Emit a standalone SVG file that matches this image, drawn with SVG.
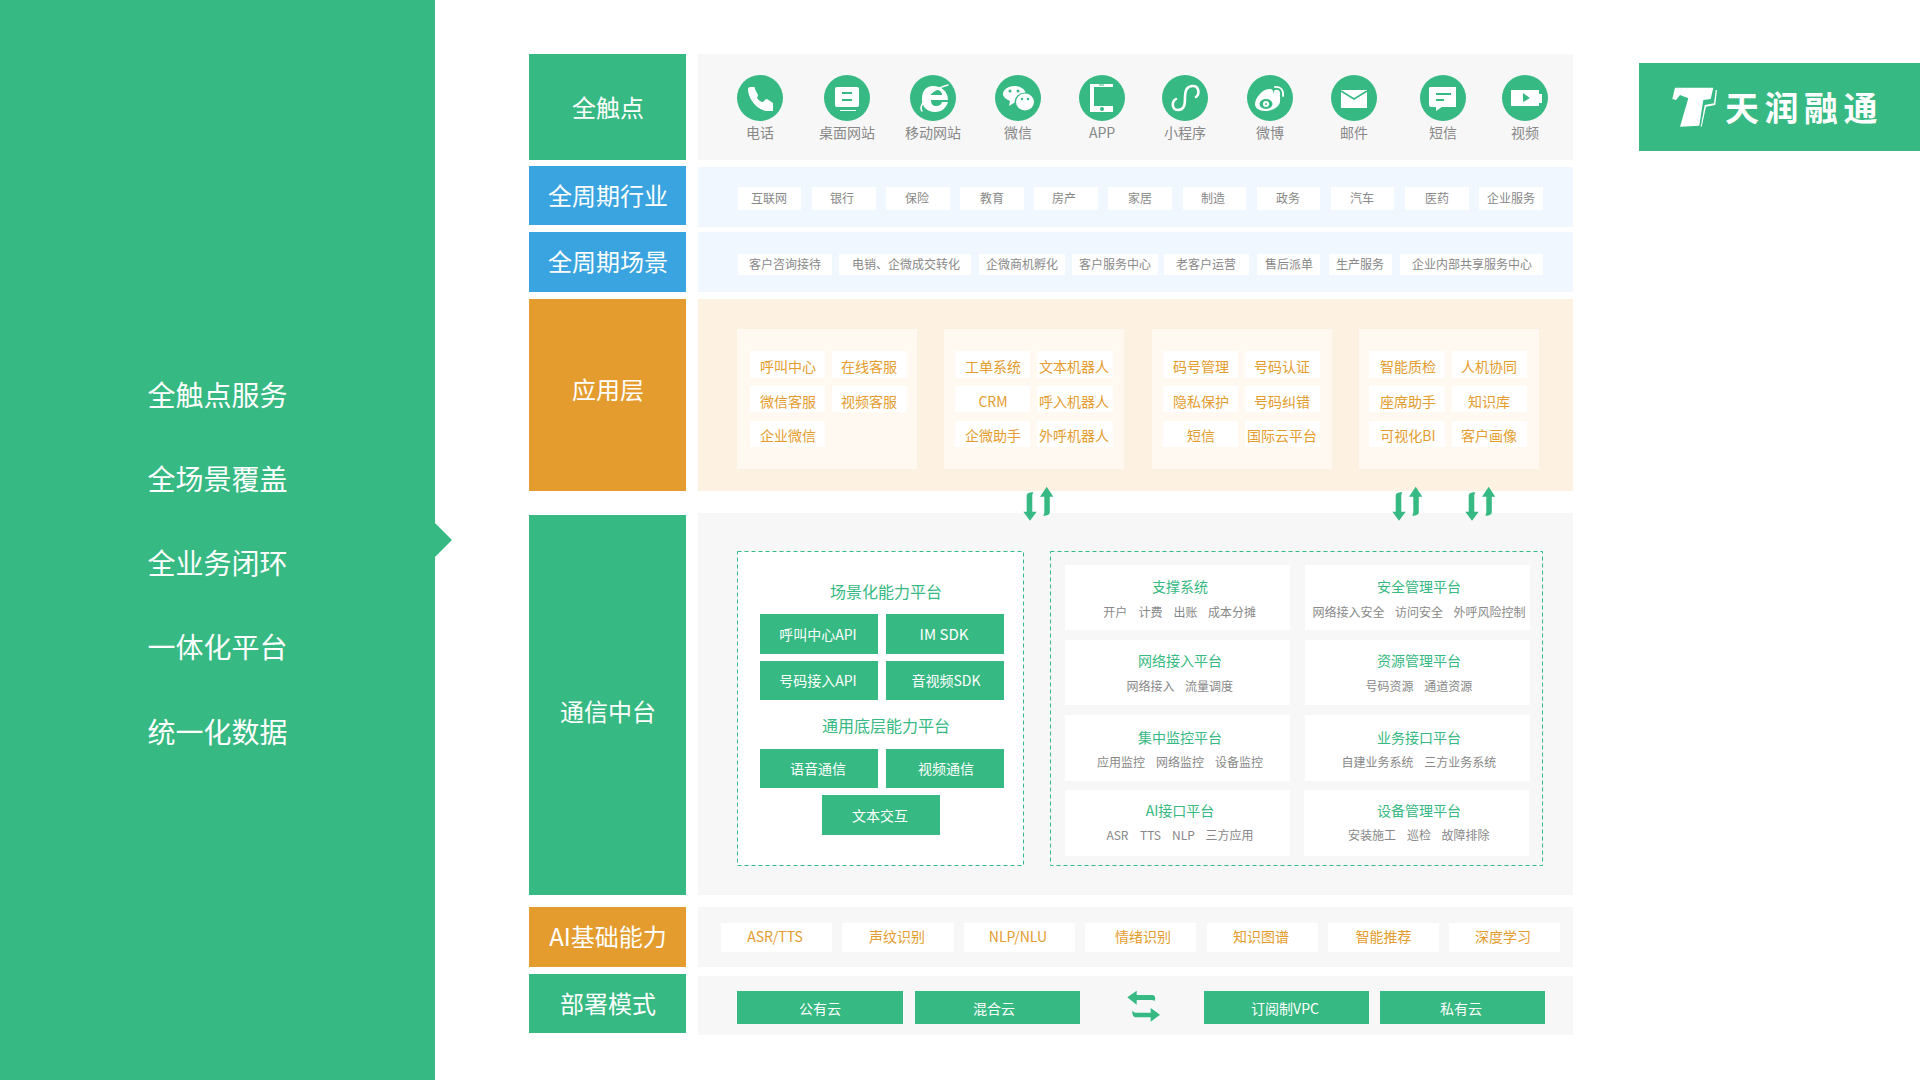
<svg xmlns="http://www.w3.org/2000/svg" xmlns:xlink="http://www.w3.org/1999/xlink" width="1920" height="1080" viewBox="0 0 1920 1080">
<style>
text{font-family:"Noto Sans CJK SC","Liberation Sans",sans-serif;font-weight:400;dominant-baseline:central;text-anchor:middle;transform:translateY(-1.300px)}
.g{fill:#36b982}.b{fill:#3aa4e0}.o{fill:#e49c2e}.w{fill:#fff}.gr{fill:#f7f7f7}.lb{fill:#f0f7fe}.pe{fill:#fdf1e1}.cd{fill:#fff9f1}
.t24{font-size:24px;fill:#fff}.t28{font-size:28px;fill:#fff}
.ic{font-size:14px;fill:#888}.c12{font-size:12px;fill:#888}.o14{font-size:14px;fill:#e49c2e}
.w14{font-size:14px;fill:#fff}.g16{font-size:16px;fill:#36b982}.g14{font-size:14px;fill:#36b982}
.s12{font-size:12px;fill:#888;text-anchor:start}
.dash{fill:none;stroke:#36b982;stroke-width:1;stroke-dasharray:4 3}
.hole{fill:#36b982}.ln{fill:none;stroke:#fff;stroke-linecap:round}
.ar{fill:#36b982}
</style>
<defs>
<path id="updown" class="ar" d="M1026.700 496C1026.700 493.500 1028.500 492.300 1033.300 492.300L1032.300 495V511.700H1036.700L1030 520.700L1023.300 511.700H1026.700ZM1046.700 486.700L1053.300 496.700H1049.800V512C1049.800 514.500 1047.500 515.700 1043.300 515.700L1044.300 513V496.700H1040Z"/>
</defs>
<g id="sidebar">
<path class="g" d="M0 0H435V523L452 540L435 557V1080H0Z"/>
<text class="t28" x="217.500" y="395">全触点服务</text>
<text class="t28" x="217.500" y="479">全场景覆盖</text>
<text class="t28" x="217.500" y="563">全业务闭环</text>
<text class="t28" x="217.500" y="647">一体化平台</text>
<text class="t28" x="217.500" y="732">统一化数据</text>
</g>
<g id="logo">
<rect class="g" x="1639" y="63" width="281" height="88"/>
<path class="w" d="M1675 87.700H1713.300L1710.700 99L1703.300 100L1699.300 125.700L1680 126.700L1688.300 98.300L1680 95L1676 100L1672.300 99Z"/>
<path class="w" d="M1715.700 90H1717L1715.300 105L1706 106.700L1701.700 126.700H1700.700L1704.700 105L1714 103.300Z"/>
<text x="1804" y="108.300" style="font-size:34px;font-weight:700;letter-spacing:5.500px;fill:#fff">天润融通</text>
</g>
<g id="touchpoints">
<rect class="g" x="529" y="54" width="157" height="106"/>
<text class="t24" x="608" y="108">全触点</text>
<rect class="gr" x="698" y="54" width="875" height="106"/>
<g id="tp-phone" transform="translate(760 98)"><circle class="g" r="23"/><path class="w" d="M-12-9Q-12-11-9-11H-6Q-5-11-5-9L-2-3Q-2-2-3 0Q0 4 3 4L5 2Q6 1 7 1L13 5V13H6Q-3 11-8 3Q-12-3-12-9Z"/><text class="ic" y="35">电话</text></g>
<g id="tp-web" transform="translate(847 98)"><circle class="g" r="23"/><path class="w" d="M-10-11H10Q12-11 12-9V7Q12 9 10 9H-10Q-12 9-12 7V-9Q-12-11-10-11ZM-7 12H9V13H-7Z"/><path class="hole" d="M-5-6H5V-4H-5ZM-5 1H5V3H-5Z"/><text class="ic" y="35">桌面网站</text></g>
<g id="tp-mobile" transform="translate(933 98)"><circle class="g" r="23"/><path class="ln" stroke-width="1.500" d="M-11 13C-15 9-6-8 15-13"/><path class="w" d="M0-12C8-12 15-7 15 2H-2C-2 6 0 8 3 8C6 8 8 7 9 4H15C13 10 9 14 2 14C-6 14-11 9-11 1C-11-7-7-12 0-12ZM-2-3H9C9-6 7-8 3-8C0-8-2-6-2-3Z"/><text class="ic" y="35">移动网站</text></g>
<g id="tp-wechat" transform="translate(1018 98)"><circle class="g" r="23"/><path class="w" d="M-4-12C3-12 8-8 8-3C8 2 3 5-4 5L-9 8L-8 3C-12 1-15-1-15-4C-15-8-10-12-4-12Z"/><ellipse cx="7" cy="4" rx="10.500" ry="9.500" fill="#36b982"/><ellipse class="w" cx="7" cy="4" rx="9" ry="8.500"/><circle class="hole" cx="-8" cy="-7" r="1.500"/><circle class="hole" cx="0" cy="-7" r="1.500"/><circle class="hole" cx="4" cy="1" r="1.200"/><circle class="hole" cx="10" cy="1" r="1.200"/><text class="ic" y="35">微信</text></g>
<g id="tp-app" transform="translate(1102 98)"><circle class="g" r="23"/><path class="w" d="M-12-14H11V-11H-8V8H11V14H-12Z"/><rect class="hole" x="-3" y="-13.500" width="5" height="1"/><circle class="hole" cx="0" cy="11" r="2"/><text class="ic" y="35">APP</text></g>
<g id="tp-mini" transform="translate(1185 98)"><circle class="g" r="23"/><path class="ln" stroke-width="2.600" d="M11-1C15-4 14-12 8-12C2-12 0-8 0 0C0 7-1 12-7 12C-13 12-14 4-9 1"/><text class="ic" y="35">小程序</text></g>
<g id="tp-weibo" transform="translate(1270 98)"><circle class="g" r="23"/><path class="w" d="M5-8C8-6 11-3 10 2C11 8 3 13-5 13C-11 13-15 10-15 6C-15 0-7-10 0-9C3-9 4-6 3-4C5-7 5-8 5-8Z"/><ellipse class="hole" cx="-4" cy="6" rx="6.500" ry="5"/><circle class="w" cx="-4" cy="6" r="3"/><circle class="hole" cx="-4" cy="6" r="1"/><path class="ln" stroke-width="1.800" d="M5-11C11-12 14-7 13-2M5-7C8-8 10-6 9-3"/><text class="ic" y="35">微博</text></g>
<g id="tp-mail" transform="translate(1354 98)"><circle class="g" r="23"/><path class="w" d="M-13-8H13V10H-13Z"/><path fill="none" stroke="#36b982" stroke-width="1.500" d="M-13-7L0 1L13-7"/><text class="ic" y="35">邮件</text></g>
<g id="tp-sms" transform="translate(1443 98)"><circle class="g" r="23"/><path class="w" d="M-13-11H13V9H-1L-7 13V9H-12Q-14 9-14 7V-10Q-14-11-13-11Z"/><path class="hole" d="M-7-5H8V-3H-7ZM-7 1H1V3H-7Z"/><text class="ic" y="35">短信</text></g>
<g id="tp-video" transform="translate(1525 98)"><circle class="g" r="23"/><path class="w" d="M-14-8H14V-4H17V5H14V8H-14Z"/><path class="hole" d="M-2-5L5 0L-2 4Z"/><text class="ic" y="35">视频</text></g>
</g>
<g id="industries">
<rect class="b" x="529" y="166" width="157" height="59"/>
<text class="t24" x="608" y="196">全周期行业</text>
<rect class="lb" x="698" y="167" width="875" height="60"/>
<g id="ind-chips">
<rect class="w" x="738" y="187" width="63" height="23"/><text class="c12" x="769" y="198.500">互联网</text>
<rect class="w" x="812" y="187" width="64" height="23"/><text class="c12" x="842" y="198.500">银行</text>
<rect class="w" x="886" y="187" width="64" height="23"/><text class="c12" x="917" y="198.500">保险</text>
<rect class="w" x="960" y="187" width="64" height="23"/><text class="c12" x="992" y="198.500">教育</text>
<rect class="w" x="1034" y="187" width="64" height="23"/><text class="c12" x="1064" y="198.500">房产</text>
<rect class="w" x="1108" y="187" width="64" height="23"/><text class="c12" x="1140" y="198.500">家居</text>
<rect class="w" x="1183" y="187" width="63" height="23"/><text class="c12" x="1213" y="198.500">制造</text>
<rect class="w" x="1257" y="187" width="63" height="23"/><text class="c12" x="1288" y="198.500">政务</text>
<rect class="w" x="1331" y="187" width="63" height="23"/><text class="c12" x="1362" y="198.500">汽车</text>
<rect class="w" x="1405" y="187" width="64" height="23"/><text class="c12" x="1437" y="198.500">医药</text>
<rect class="w" x="1479" y="187" width="64" height="23"/><text class="c12" x="1511" y="198.500">企业服务</text>
</g>
</g>
<g id="scenes">
<rect class="b" x="529" y="232" width="157" height="60"/>
<text class="t24" x="608" y="262">全周期场景</text>
<rect class="lb" x="698" y="232" width="875" height="60"/>
<g id="scene-chips">
<rect class="w" x="738" y="254" width="94" height="21"/><text class="c12" x="785" y="264.500">客户咨询接待</text>
<rect class="w" x="839" y="254" width="132" height="21"/><text class="c12" x="906" y="264.500">电销、企微成交转化</text>
<rect class="w" x="979" y="254" width="86" height="21"/><text class="c12" x="1022" y="264.500">企微商机孵化</text>
<rect class="w" x="1072" y="254" width="86" height="21"/><text class="c12" x="1115" y="264.500">客户服务中心</text>
<rect class="w" x="1164" y="254" width="85" height="21"/><text class="c12" x="1206" y="264.500">老客户运营</text>
<rect class="w" x="1257" y="254" width="63" height="21"/><text class="c12" x="1289" y="264.500">售后派单</text>
<rect class="w" x="1329" y="254" width="63" height="21"/><text class="c12" x="1360" y="264.500">生产服务</text>
<rect class="w" x="1400" y="254" width="143" height="21"/><text class="c12" x="1472" y="264.500">企业内部共享服务中心</text>
</g>
</g>
<g id="applications">
<rect class="o" x="529" y="299" width="157" height="192"/>
<text class="t24" x="608" y="390">应用层</text>
<rect class="pe" x="698" y="299" width="875" height="192"/>
<g id="app-card-1">
<rect class="cd" x="737" y="329" width="180" height="140"/>
<rect class="w" x="750" y="351" width="75" height="27"/><text class="o14" x="788" y="367">呼叫中心</text>
<rect class="w" x="832" y="351" width="75" height="27"/><text class="o14" x="869" y="367">在线客服</text>
<rect class="w" x="750" y="386" width="75" height="26"/><text class="o14" x="788" y="402">微信客服</text>
<rect class="w" x="832" y="386" width="75" height="26"/><text class="o14" x="869" y="402">视频客服</text>
<rect class="w" x="750" y="421" width="75" height="26"/><text class="o14" x="788" y="436">企业微信</text>
</g>
<g id="app-card-2">
<rect class="cd" x="944" y="329" width="180" height="140"/>
<rect class="w" x="955" y="351" width="75" height="27"/><text class="o14" x="993" y="367">工单系统</text>
<rect class="w" x="1037" y="351" width="76" height="27"/><text class="o14" x="1074" y="367">文本机器人</text>
<rect class="w" x="955" y="386" width="75" height="26"/><text class="o14" x="993" y="402">CRM</text>
<rect class="w" x="1037" y="386" width="76" height="26"/><text class="o14" x="1074" y="402">呼入机器人</text>
<rect class="w" x="955" y="421" width="75" height="26"/><text class="o14" x="993" y="436">企微助手</text>
<rect class="w" x="1037" y="421" width="76" height="26"/><text class="o14" x="1074" y="436">外呼机器人</text>
</g>
<g id="app-card-3">
<rect class="cd" x="1152" y="329" width="180" height="140"/>
<rect class="w" x="1163" y="351" width="75" height="27"/><text class="o14" x="1201" y="367">码号管理</text>
<rect class="w" x="1245" y="351" width="75" height="27"/><text class="o14" x="1282" y="367">号码认证</text>
<rect class="w" x="1163" y="386" width="75" height="26"/><text class="o14" x="1201" y="402">隐私保护</text>
<rect class="w" x="1245" y="386" width="75" height="26"/><text class="o14" x="1282" y="402">号码纠错</text>
<rect class="w" x="1163" y="421" width="75" height="26"/><text class="o14" x="1201" y="436">短信</text>
<rect class="w" x="1245" y="421" width="75" height="26"/><text class="o14" x="1282" y="436">国际云平台</text>
</g>
<g id="app-card-4">
<rect class="cd" x="1359" y="329" width="180" height="140"/>
<rect class="w" x="1369" y="351" width="76" height="27"/><text class="o14" x="1408" y="367">智能质检</text>
<rect class="w" x="1452" y="351" width="75" height="27"/><text class="o14" x="1489" y="367">人机协同</text>
<rect class="w" x="1369" y="386" width="76" height="26"/><text class="o14" x="1408" y="402">座席助手</text>
<rect class="w" x="1452" y="386" width="75" height="26"/><text class="o14" x="1489" y="402">知识库</text>
<rect class="w" x="1369" y="421" width="76" height="26"/><text class="o14" x="1408" y="436">可视化BI</text>
<rect class="w" x="1452" y="421" width="75" height="26"/><text class="o14" x="1489" y="436">客户画像</text>
</g>
</g>
<g id="comm">
<rect class="g" x="529" y="515" width="157" height="380"/>
<text class="t24" x="608" y="712">通信中台</text>
<rect class="gr" x="698" y="513" width="875" height="382"/>
<g id="comm-left">
<rect class="w" x="737.500" y="551.500" width="286" height="314"/>
<rect class="dash" x="737.500" y="551.500" width="286" height="314"/>
<text class="g16" x="886" y="592">场景化能力平台</text>
<rect class="g" x="760" y="614" width="118" height="40"/><text class="w14" x="818" y="635">呼叫中心API</text>
<rect class="g" x="886" y="614" width="118" height="40"/><text class="w14" x="944" y="635" style="font-size:15px">IM SDK</text>
<rect class="g" x="760" y="661" width="118" height="39"/><text class="w14" x="818" y="681">号码接入API</text>
<rect class="g" x="886" y="661" width="118" height="39"/><text class="w14" x="946" y="681">音视频SDK</text>
<text class="g16" x="886" y="726">通用底层能力平台</text>
<rect class="g" x="760" y="749" width="118" height="39"/><text class="w14" x="818" y="769">语音通信</text>
<rect class="g" x="886" y="749" width="118" height="39"/><text class="w14" x="946" y="769">视频通信</text>
<rect class="g" x="822" y="795" width="118" height="40"/><text class="w14" x="880" y="816">文本交互</text>
</g>
<g id="comm-right">
<rect class="dash" x="1050.500" y="551.500" width="492" height="314"/>
<g id="p-support"><rect class="w" x="1065" y="565" width="225" height="65"/><text class="g14" x="1180" y="587">支撑系统</text><text class="s12" y="612"><tspan x="1103.300">开户</tspan><tspan x="1138.500">计费</tspan><tspan x="1173.600">出账</tspan><tspan x="1208">成本分摊</tspan></text></g>
<g id="p-security"><rect class="w" x="1305" y="565" width="225" height="65"/><text class="g14" x="1419" y="587">安全管理平台</text><text class="s12" y="612"><tspan x="1312.400">网络接入安全</tspan><tspan x="1395">访问安全</tspan><tspan x="1453.600">外呼风险控制</tspan></text></g>
<g id="p-access"><rect class="w" x="1065" y="640" width="225" height="65"/><text class="g14" x="1180" y="661">网络接入平台</text><text class="s12" y="686"><tspan x="1126.400">网络接入</tspan><tspan x="1185">流量调度</tspan></text></g>
<g id="p-resource"><rect class="w" x="1305" y="640" width="225" height="65"/><text class="g14" x="1419" y="661">资源管理平台</text><text class="s12" y="686"><tspan x="1365.400">号码资源</tspan><tspan x="1424.300">通道资源</tspan></text></g>
<g id="p-monitor"><rect class="w" x="1065" y="715" width="225" height="66"/><text class="g14" x="1180" y="738">集中监控平台</text><text class="s12" y="762"><tspan x="1097">应用监控</tspan><tspan x="1156">网络监控</tspan><tspan x="1215">设备监控</tspan></text></g>
<g id="p-business"><rect class="w" x="1305" y="715" width="225" height="66"/><text class="g14" x="1419" y="738">业务接口平台</text><text class="s12" y="762"><tspan x="1341.600">自建业务系统</tspan><tspan x="1424.300">三方业务系统</tspan></text></g>
<g id="p-ai"><rect class="w" x="1065" y="790" width="225" height="66"/><text class="g14" x="1180" y="811">AI接口平台</text><text class="s12" y="835"><tspan x="1106.400">ASR</tspan><tspan x="1140">TTS</tspan><tspan x="1172">NLP</tspan><tspan x="1205.600">三方应用</tspan></text></g>
<g id="p-device"><rect class="w" x="1304" y="790" width="225" height="66"/><text class="g14" x="1419" y="811">设备管理平台</text><text class="s12" y="835"><tspan x="1348">安装施工</tspan><tspan x="1407">巡检</tspan><tspan x="1441.500">故障排除</tspan></text></g>
</g>
</g>
<g id="ai">
<rect class="o" x="529" y="907" width="157" height="60"/>
<text class="t24" x="608" y="937">AI基础能力</text>
<rect class="gr" x="698" y="907" width="875" height="60"/>
<rect class="w" x="721" y="923" width="111" height="29"/><text class="o14" x="775" y="937">ASR/TTS</text>
<rect class="w" x="842" y="923" width="112" height="29"/><text class="o14" x="897" y="937">声纹识别</text>
<rect class="w" x="964" y="923" width="111" height="29"/><text class="o14" x="1018" y="937">NLP/NLU</text>
<rect class="w" x="1085" y="923" width="111" height="29"/><text class="o14" x="1143" y="937">情绪识别</text>
<rect class="w" x="1207" y="923" width="111" height="29"/><text class="o14" x="1261" y="937">知识图谱</text>
<rect class="w" x="1328" y="923" width="111" height="29"/><text class="o14" x="1383.500" y="937">智能推荐</text>
<rect class="w" x="1449" y="923" width="111" height="29"/><text class="o14" x="1503" y="937">深度学习</text>
</g>
<g id="deploy">
<rect class="g" x="529" y="974" width="157" height="59"/>
<text class="t24" x="608" y="1004">部署模式</text>
<rect class="gr" x="698" y="976" width="875" height="59"/>
<rect class="g" x="737" y="991" width="166" height="33"/><text class="w14" x="820" y="1009">公有云</text>
<rect class="g" x="915" y="991" width="165" height="33"/><text class="w14" x="994" y="1009">混合云</text>
<rect class="g" x="1204" y="991" width="165" height="33"/><text class="w14" x="1285" y="1009">订阅制VPC</text>
<rect class="g" x="1380" y="991" width="165" height="33"/><text class="w14" x="1461" y="1009">私有云</text>
</g>
<g id="connectors">
<use xlink:href="#updown" href="#updown"/>
<use xlink:href="#updown" href="#updown" x="369"/>
<use xlink:href="#updown" href="#updown" x="442"/>
<path class="ar" d="M1127.300 997.300L1136.700 990.700V995H1152C1154.500 995 1155.700 997 1155 1000.700L1152 1000H1136.700V1004.700Z"/>
<path class="ar" d="M1160 1014.700L1150.700 1008V1012.700H1135L1132.300 1010.700C1132 1014.500 1133.500 1017.300 1136 1017.300H1150.700V1021.700Z"/>
</g>
</svg>
